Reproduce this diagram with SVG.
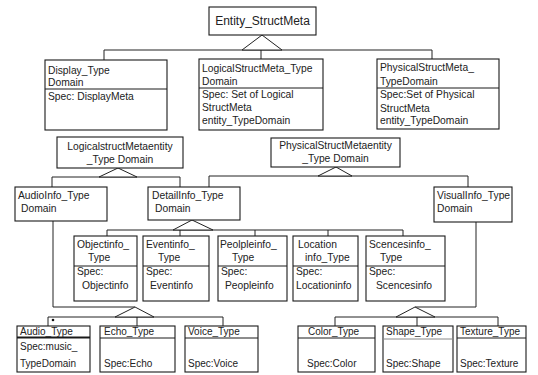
<svg xmlns="http://www.w3.org/2000/svg" width="538" height="375" viewBox="0 0 538 375">
<style>
.b{fill:#fff;stroke:#1a1a1a;stroke-width:1.1}
.d{stroke:#1a1a1a;stroke-width:1;fill:none}
.t{font-family:"Liberation Sans",Arial,sans-serif;font-size:10.3px;fill:#222}
.s{font-size:10px}
.c{text-anchor:middle}
.ln{stroke:#222;stroke-width:1;fill:none}
.tri{fill:#fff;stroke:#222;stroke-width:1}
</style>
<rect width="538" height="375" fill="#fff"/>
<g id="connectors">
<path class="ln" d="M104,50H432M104,50V60M261,50V59M432,50V59"/>
<polygon class="tri" points="262,35 242,50 282,50"/>
<path class="ln" d="M52,177H180M52,177V187M180,177V187"/>
<polygon class="tri" points="118,168 99,177 137,177"/>
<path class="ln" d="M209,176H468M209,176V187M468,176V187"/>
<polygon class="tri" points="336,167 318,176 352,176"/>
<path class="ln" d="M107,230H403M107,230V236M180,230V236M255,230V236M328,230V236M403,230V236"/>
<polygon class="tri" points="192,220 173,230 213,230"/>
<path class="ln" d="M53,221V307H135M48,317H223M48,317V326M137,317V326M223,317V326"/>
<polygon class="tri" points="135,307 115,317 154,317"/>
<circle cx="53" cy="320" r="1.3" fill="#111"/>
<path class="ln" d="M476,222V307H415M335,317H498M335,317V326M417,317V326M498,317V326"/>
<polygon class="tri" points="415,307 396,317 435,317"/>
</g>
<g id="entity_structmeta">
<rect class="b" x="209" y="7" width="107" height="28"/>
<text class="t c" x="262.5" y="25" style="font-size:12px">Entity_StructMeta</text>
</g>
<g id="display_type">
<rect class="b" x="45" y="60" width="122" height="70"/>
<line class="d" x1="45" y1="89" x2="167" y2="89"/>
<text class="t" x="48" y="74">Display_Type</text>
<text class="t" x="48" y="86">Domain</text>
<text class="t" x="48" y="100">Spec: DisplayMeta</text>
</g>
<g id="logical_type">
<rect class="b" x="199" y="59" width="124" height="71"/>
<line class="d" x1="199" y1="88" x2="323" y2="88"/>
<text class="t" x="202" y="72">LogicalStructMeta_Type</text>
<text class="t" x="202" y="85">Domain</text>
<text class="t" x="202" y="98">Spec: Set of Logical</text>
<text class="t" x="202" y="111">StructMeta</text>
<text class="t" x="202" y="124">entity_TypeDomain</text>
</g>
<g id="physical_type">
<rect class="b" x="377" y="59" width="122" height="70"/>
<line class="d" x1="377" y1="88" x2="499" y2="88"/>
<text class="t" x="380" y="71">PhysicalStructMeta_</text>
<text class="t" x="380" y="85">TypeDomain</text>
<text class="t" x="380" y="98">Spec:Set of Physical</text>
<text class="t" x="380" y="112">StructMeta</text>
<text class="t" x="380" y="124">entity_TypeDomain</text>
</g>
<g id="logical_entity">
<rect class="b" x="57" y="137" width="126" height="31"/>
<text class="t c" x="120" y="150">LogicalstructMetaentity</text>
<text class="t c" x="120" y="163">_Type Domain</text>
</g>
<g id="physical_entity">
<rect class="b" x="271" y="138" width="129" height="29"/>
<text class="t c" x="335.5" y="149">PhysicalStructMetaentity</text>
<text class="t c" x="335.5" y="162">_Type Domain</text>
</g>
<g id="audioinfo">
<rect class="b" x="15" y="187" width="92" height="34"/>
<text class="t" x="18" y="199">AudioInfo_Type</text>
<text class="t" x="21" y="212">Domain</text>
</g>
<g id="detailinfo">
<rect class="b" x="148" y="187" width="92" height="33"/>
<text class="t" x="152" y="199">DetailInfo_Type</text>
<text class="t" x="155" y="212">Domain</text>
</g>
<g id="visualinfo">
<rect class="b" x="434" y="187" width="78" height="35"/>
<text class="t" x="437" y="199">VisualInfo_Type</text>
<text class="t" x="437" y="212">Domain</text>
</g>
<g id="objectinfo">
<rect class="b" x="74" y="236" width="63" height="65"/>
<line class="d" x1="74" y1="266" x2="137" y2="266"/>
<text class="t" x="77" y="248">Objectinfo_</text>
<text class="t" x="88" y="261">Type</text>
<text class="t" x="77" y="275">Spec:</text>
<text class="t" x="82" y="289">Objectinfo</text>
</g>
<g id="eventinfo">
<rect class="b" x="143" y="236" width="66" height="65"/>
<line class="d" x1="143" y1="266" x2="209" y2="266"/>
<text class="t" x="146" y="248">Eventinfo_</text>
<text class="t" x="158" y="261">Type</text>
<text class="t" x="146" y="275">Spec:</text>
<text class="t" x="150" y="289">Eventinfo</text>
</g>
<g id="peopleinfo">
<rect class="b" x="218" y="236" width="69" height="65"/>
<line class="d" x1="218" y1="266" x2="287" y2="266"/>
<text class="t" x="220" y="248">Peolpleinfo_</text>
<text class="t" x="232" y="261">Type</text>
<text class="t" x="221" y="275">Spec:</text>
<text class="t" x="225" y="289">Peopleinfo</text>
</g>
<g id="locationinfo">
<rect class="b" x="293" y="236" width="65" height="65"/>
<line class="d" x1="293" y1="266" x2="358" y2="266"/>
<text class="t" x="298" y="248">Location</text>
<text class="t" x="305" y="261">info_Type</text>
<text class="t" x="296" y="275">Spec:</text>
<text class="t" x="296" y="289">Locationinfo</text>
</g>
<g id="scencesinfo">
<rect class="b" x="366" y="236" width="79" height="65"/>
<line class="d" x1="366" y1="266" x2="445" y2="266"/>
<text class="t" x="369" y="248">Scencesinfo_</text>
<text class="t" x="380" y="261">Type</text>
<text class="t" x="369" y="275">Spec:</text>
<text class="t" x="376" y="289">Scencesinfo</text>
</g>
<g id="audio_type">
<rect class="b" x="17" y="326" width="73" height="46"/>
<line class="d" x1="17" y1="337.5" x2="90" y2="337.5" style="stroke-width:2"/>
<text class="t s" x="20" y="335">Audio_Type</text>
<text class="t s" x="20" y="350">Spec:music_</text>
<text class="t s" x="20" y="367">TypeDomain</text>
</g>
<g id="echo_type">
<rect class="b" x="100" y="326" width="75" height="46"/>
<line class="d" x1="100" y1="338" x2="175" y2="338"/>
<text class="t s" x="104" y="335">Echo_Type</text>
<text class="t s" x="104" y="367">Spec:Echo</text>
</g>
<g id="voice_type">
<rect class="b" x="185" y="326" width="73" height="46"/>
<line class="d" x1="185" y1="338" x2="258" y2="338"/>
<text class="t s" x="188" y="335">Voice_Type</text>
<text class="t s" x="188" y="367">Spec:Voice</text>
</g>
<g id="color_type">
<rect class="b" x="298" y="326" width="77" height="46"/>
<line class="d" x1="298" y1="338" x2="375" y2="338"/>
<text class="t s" x="308" y="335">Color_Type</text>
<text class="t s" x="307" y="367">Spec:Color</text>
</g>
<g id="shape_type">
<rect class="b" x="383" y="326" width="70" height="46"/>
<line class="d" x1="383" y1="339" x2="453" y2="339" style="stroke:#888"/>
<text class="t s" x="386" y="335">Shape_Type</text>
<text class="t s" x="386" y="367">Spec:Shape</text>
</g>
<g id="texture_type">
<rect class="b" x="457" y="326" width="69" height="46"/>
<line class="d" x1="457" y1="338" x2="526" y2="338"/>
<text class="t s" x="460" y="335">Texture_Type</text>
<text class="t s" x="460" y="367">Spec:Texture</text>
</g>
</svg>
